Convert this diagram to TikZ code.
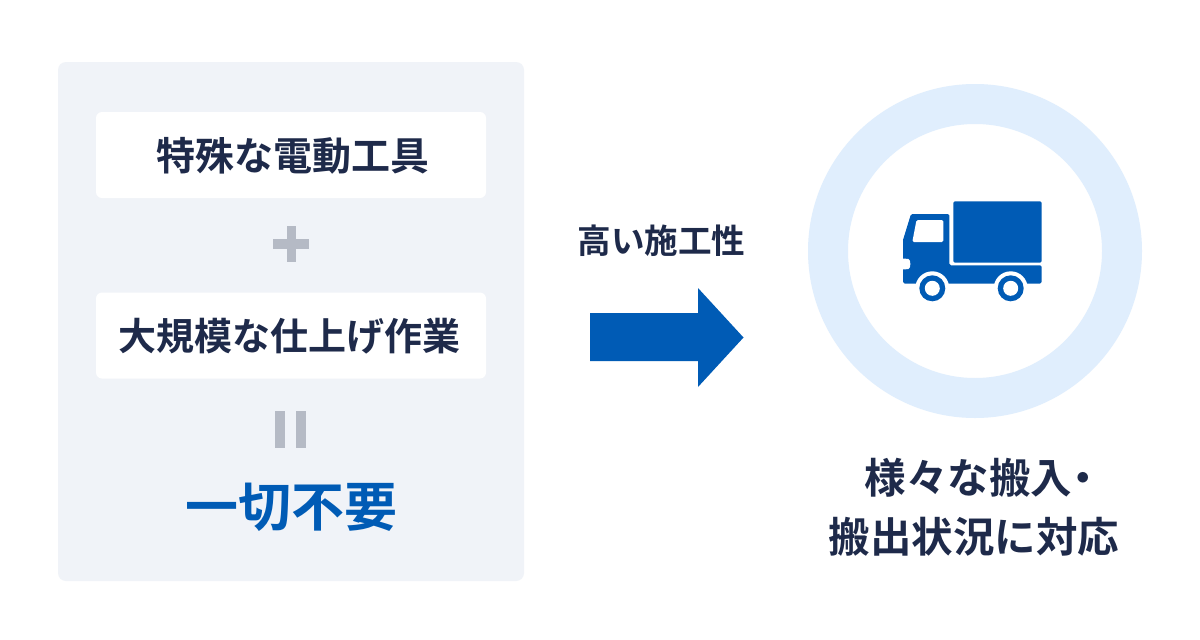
\documentclass[tikz,border=0pt]{standalone}
\usepackage{fontspec}
\newfontfamily\jpA[Script=CJK,Language=Japanese]{Noto Sans CJK JP Bold}
\definecolor{panelc}{HTML}{F0F3F8}
\definecolor{inkc}{HTML}{1E2A4A}
\definecolor{bluec}{HTML}{005BB5}
\definecolor{ringc}{HTML}{E0EEFD}
\definecolor{grayc}{HTML}{B5BAC5}
\tikzset{
  whitebox/.style={fill=white,rounded corners=6pt,draw=none,minimum width=390pt,minimum height=86pt,inner sep=0pt},
  label/.style={text=inkc,inner sep=0pt,font=\jpA\fontsize{38pt}{50pt}\selectfont},
}
\begin{document}
\begin{tikzpicture}[x=1pt,y=-1pt]
\useasboundingbox (0,0) rectangle (1200,640);
\fill[white] (0,0) rectangle (1200,640);
% panel
\node[fill=panelc,rounded corners=8pt,minimum width=466pt,minimum height=519pt,inner sep=0pt] (panel) at (291,321.5) {};
\node[whitebox] (b1) at (291,155) {};
\node[whitebox] (b2) at (291,335.5) {};
\node[label,font=\jpA\fontsize{39pt}{50pt}\selectfont] (t1) at (292.5,155.5) {特殊な電動工具};
\node[label] (t2) at (289,336.5) {大規模な仕上げ作業};
% plus
\fill[grayc] (273,238.7) rectangle (309.3,249.3);
\fill[grayc] (286.7,225.7) rectangle (296,261.7);
% equals
\fill[grayc] (275,410.7) rectangle (285,448.3);
\fill[grayc] (296,410.7) rectangle (306,448.3);
\node[inner sep=0pt,text=bluec,font=\jpA\fontsize{53pt}{60pt}\selectfont] (t3) at (291,507) {一切不要};
% arrow
\node[label,font=\jpA\fontsize{33.6pt}{40pt}\selectfont] (t4) at (661.5,241) {高い施工性};
\fill[bluec] (590,313) -- (698,313) -- (698,288) -- (743.5,337.5) -- (698,387) -- (698,361) -- (590,361) -- cycle;
% ring
\node[circle,draw=ringc,line width=40pt,minimum size=294pt,inner sep=0pt] (ring) at (975,251) {};
% truck
\fill[bluec,rounded corners=1.5pt] (953.3,201.3) rectangle (1041.7,262.7);
\fill[bluec,rounded corners=1.5pt]
  (903,240) -- (911,214) -- (949.3,214) -- (949.3,265.3) -- (1041.7,265.3) -- (1041.7,283.5)
  -- (903,283.5) -- (903,269.3);
\fill[bluec] (903,269.3) -- (903,240) -- (920,240) -- (920,269.3) -- cycle;
\fill[white,rounded corners=1.5pt] (916.5,220) -- (943.3,220) -- (943.3,242) -- (912.3,242) -- cycle;
\fill[white,rounded corners=1.5pt] (900,258.7) -- (907,258.7) .. controls (911,259.5) and (911,268.5) .. (907,269.3) -- (900,269.3) -- cycle;
\fill[white] (932.3,288.3) circle (17);
\fill[white] (1010.7,288.3) circle (17);
\fill[white] (912,284) rectangle (1032,292);
\fill[bluec] (932.3,288.3) circle (13);
\fill[bluec] (1010.7,288.3) circle (13);
\fill[white] (932.3,288.3) circle (7.5);
\fill[white] (1010.7,288.3) circle (7.5);
% captions
\node[label,font=\jpA\fontsize{41.5pt}{50pt}\selectfont] (t5) at (984,478) {様々な搬入\kern-10pt・};
\node[label,font=\jpA\fontsize{41.5pt}{50pt}\selectfont] (t6) at (974,536.5) {搬出状況に対応};
\end{tikzpicture}
\end{document}
